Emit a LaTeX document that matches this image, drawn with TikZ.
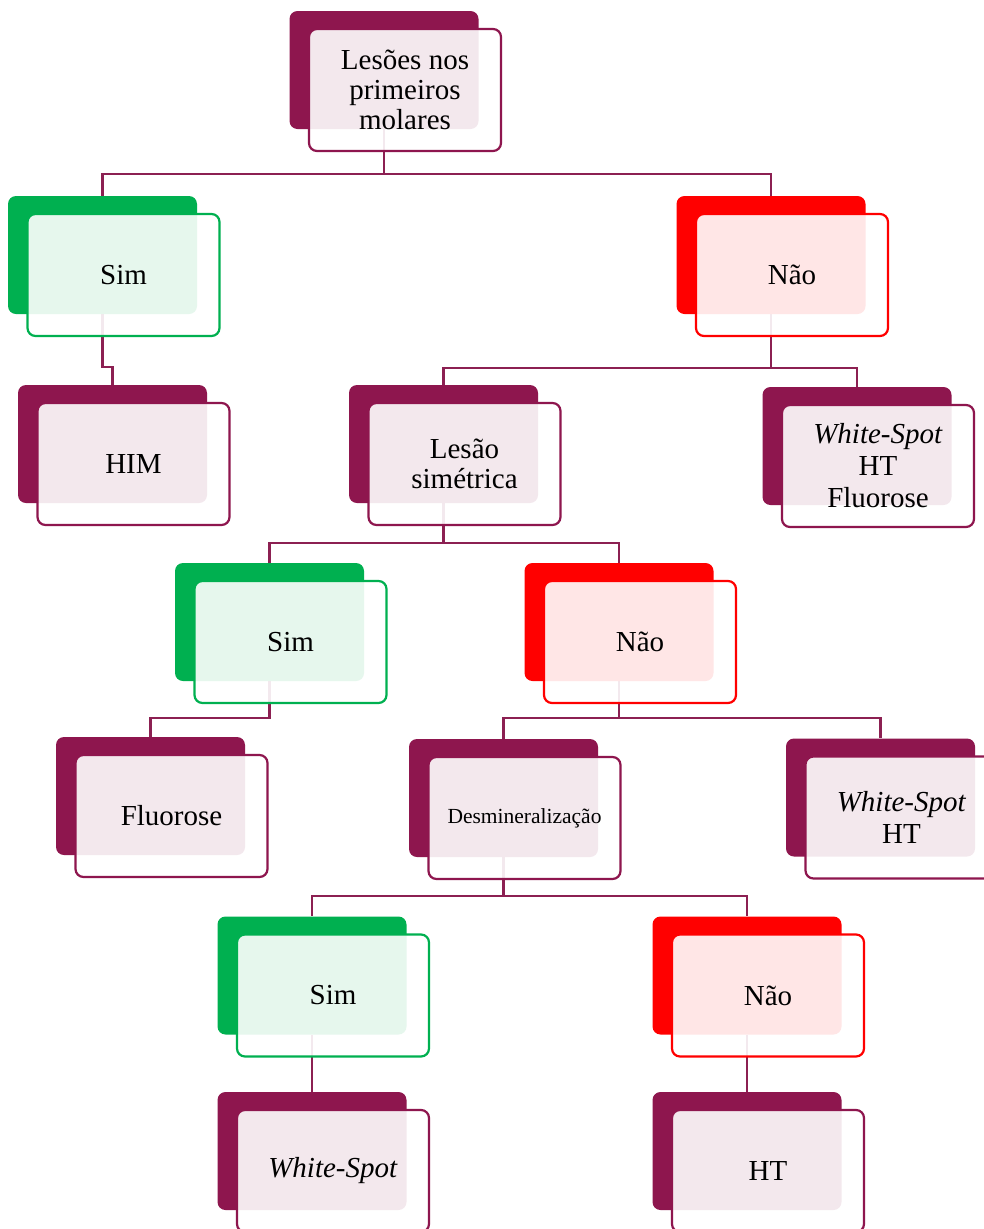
\documentclass[tikz,border=0pt]{standalone}
\usepackage{fontspec}
\setmainfont{Liberation Serif}
\usetikzlibrary{backgrounds}
\definecolor{mag}{RGB}{142,22,78}
\definecolor{lnk}{RGB}{140,32,82}
\definecolor{grn}{RGB}{0,176,80}
\definecolor{rd}{RGB}{255,0,0}
\tikzset{
  backbox/.style={draw=none, fill=#1, rounded corners=8pt, minimum width=189pt, minimum height=118pt, inner sep=0pt},
  frontbox/.style={draw=#1, line width=2.2pt, fill=white, fill opacity=0.9, text opacity=1,
    rounded corners=8pt, minimum width=192pt, minimum height=122pt, align=center, inner sep=0pt,
    font=\fontsize{29}{30}\selectfont},
  link/.style={draw=lnk, line width=2.4pt},
}
\begin{document}
\begin{tikzpicture}[x=1pt,y=-1pt]
\useasboundingbox (0,0) rectangle (984,1229);
% back boxes
\node[backbox=mag] (rootB) at (384,70) {};
\node[backbox=grn] (sim1B) at (102.5,255) {};
\node[backbox=rd]  (nao1B) at (771,255) {};
\node[backbox=mag] (himB)  at (112.5,444) {};
\node[backbox=mag] (lesB)  at (443.5,444) {};
\node[backbox=mag] (whfB)  at (857,446) {};
\node[backbox=grn] (sim2B) at (269.5,622) {};
\node[backbox=rd]  (nao2B) at (619,622) {};
\node[backbox=mag] (fluB)  at (150.5,796) {};
\node[backbox=mag] (desB)  at (503.5,798) {};
\node[backbox=mag] (whtB)  at (880.5,797.5) {};
\node[backbox=grn] (sim3B) at (312,975.5) {};
\node[backbox=rd]  (nao3B) at (747,975.5) {};
\node[backbox=mag] (wsB)   at (312,1151) {};
\node[backbox=mag] (htB)   at (747,1151) {};
% horizontal levels
\coordinate (h1) at (0,174);
\coordinate (h2) at (0,367);
\coordinate (h3) at (0,368);
\coordinate (h4) at (0,543);
\coordinate (h5) at (0,718);
\coordinate (h6) at (0,896);
% connectors (behind the boxes)
\begin{scope}[on background layer]
\fill[white] (0,0) rectangle (984,1229);
\draw[link] (rootB.south) -- (rootB.south |- h1) -| (sim1B.north);
\draw[link] (rootB.south |- h1) -| (nao1B.north);
\draw[link] (sim1B.south) -- (sim1B.south |- h2) -| (himB.north);
\draw[link] (nao1B.south) -- (nao1B.south |- h3) -| (lesB.north);
\draw[link] (nao1B.south |- h3) -| (whfB.north);
\draw[link] (lesB.south) -- (lesB.south |- h4) -| (sim2B.north);
\draw[link] (lesB.south |- h4) -| (nao2B.north);
\draw[link] (sim2B.south) -- (sim2B.south |- h5) -| (fluB.north);
\draw[link] (nao2B.south) -- (nao2B.south |- h5) -| (desB.north);
\draw[link] (nao2B.south |- h5) -| (whtB.north);
\draw[link] (desB.south) -- (desB.south |- h6) -| (sim3B.north);
\draw[link] (desB.south |- h6) -| (nao3B.north);
\draw[link] (sim3B.south) -- (wsB.north);
\draw[link] (nao3B.south) -- (htB.north);
\end{scope}
% front boxes
\node[frontbox=mag] (root) at ([shift={(21,20)}]rootB.center) {Lesões nos\\primeiros\\molares};
\node[frontbox=grn] (sim1) at ([shift={(21,20)}]sim1B.center) {Sim};
\node[frontbox=rd]  (nao1) at ([shift={(21,20)}]nao1B.center) {Não};
\node[frontbox=mag] (him)  at ([shift={(21,20)}]himB.center) {HIM};
\node[frontbox=mag] (les)  at ([shift={(21,20)}]lesB.center) {Lesão\\simétrica};
\node[frontbox=mag, font=\fontsize{29}{32}\selectfont] (whf) at ([shift={(21,20)}]whfB.center) {\textit{White-Spot}\\HT\\Fluorose};
\node[frontbox=grn] (sim2) at ([shift={(21,20)}]sim2B.center) {Sim};
\node[frontbox=rd]  (nao2) at ([shift={(21,20)}]nao2B.center) {Não};
\node[frontbox=mag] (flu)  at ([shift={(21,20)}]fluB.center) {Fluorose};
\node[frontbox=mag, font=\fontsize{21.5}{23}\selectfont] (des) at ([shift={(21,20)}]desB.center) {Desmineralização};
\node[frontbox=mag, font=\fontsize{29}{32}\selectfont] (wht) at ([shift={(21,20)}]whtB.center) {\textit{White-Spot}\\HT};
\node[frontbox=grn] (sim3) at ([shift={(21,20)}]sim3B.center) {Sim};
\node[frontbox=rd]  (nao3) at ([shift={(21,20)}]nao3B.center) {Não};
\node[frontbox=mag] (ws)   at ([shift={(21,20)}]wsB.center) {\textit{White-Spot}};
\node[frontbox=mag] (ht)   at ([shift={(21,20)}]htB.center) {HT};
\end{tikzpicture}
\end{document}
